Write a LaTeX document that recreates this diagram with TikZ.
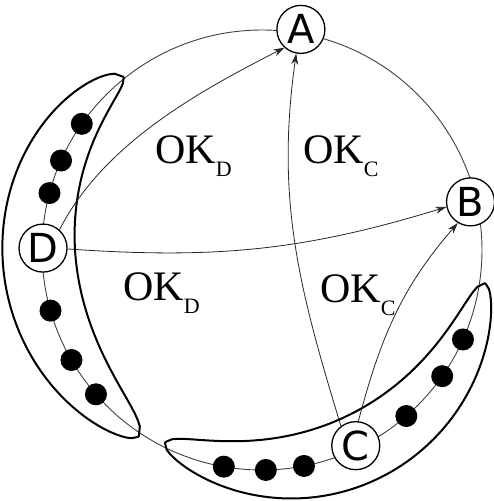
\documentclass[tikz,border=0pt]{standalone}
\usepackage{fontspec}
\setmainfont{Liberation Serif}
\newfontfamily\lettersans{DejaVu Sans}
\usetikzlibrary{arrows.meta}

\newcommand{\oklabel}[1]{OK\raisebox{-0.32em}{\fontsize{22}{22}\selectfont #1}}

\begin{document}
\begin{tikzpicture}[
    x=1pt, y=1pt,
    vert/.style={draw, circle, fill=white, line width=1.3pt, minimum size=48pt,
                 inner sep=0pt, font=\fontsize{40}{40}\lettersans},
    dot/.style={circle, fill=black, minimum size=22pt, inner sep=0pt},
    ring/.style={draw=black!75, line width=0.9pt},
    banana/.style={draw, line width=2pt, line join=round},
    ok/.style={font=\fontsize{42}{42}\selectfont, inner sep=0pt, anchor=base west},
    link/.style={->, draw=black!85, line width=0.8pt},
    >={Stealth[length=11pt, width=7pt]}
  ]
  \useasboundingbox (-262,-251) rectangle (232,250);

  % the ring
  \draw[ring] (0,0) circle[radius=220];

  % the two crescents
  \draw[banana]
    plot[domain=0:1, samples=90]
      ({128.7+107.8*\x}:{222+\x+(42-10*\x)*sqrt(abs(sin(180*\x)))})
    -- plot[domain=1:0, samples=90]
      ({128.7+107.8*\x}:{222+\x-(27+18*\x)*sqrt(abs(sin(180*\x)))})
    -- cycle;
  \draw[banana]
    plot[domain=0:1, samples=90]
      ({243.3+108.2*\x}:{216+9*\x+(28+8*sin(180*\x))*sqrt(abs(sin(180*\x)))})
    -- plot[domain=1:0, samples=90]
      ({243.3+108.2*\x}:{216+9*\x-34*sqrt(abs(sin(180*\x)))})
    -- cycle;

  % members on the ring
  \foreach \a in {145,156,165,196,210,221,260,271,281,311,325,336}
    \node[dot] (dot\a) at (\a:220) {};

  % named processes
  \node[vert] (A) at (80:224)    {A};
  \node[vert] (B) at (13:214)    {B};
  \node[vert] (C) at (-64.4:217) {C};
  \node[vert] (D) at (179.5:219) {D};

  % messages
  \draw[link] (D.48)  to[out=63, in=207, looseness=0.85] (A.228);
  \draw[link] (D.-2)  to[out=-4, in=197] (B.192);
  \draw[link] (C.127) to[out=107, in=-98] (A.259);
  \draw[link] (C.84)  to[out=75, in=229] (B.239);

  % labels
  \node[ok] (okDtop) at (-107,87)  {\oklabel{D}};
  \node[ok] (okCtop) at (41,87)    {\oklabel{C}};
  \node[ok] (okDbot) at (-139,-50) {\oklabel{D}};
  \node[ok] (okCbot) at (58,-52)   {\oklabel{C}};
\end{tikzpicture}
\end{document}
